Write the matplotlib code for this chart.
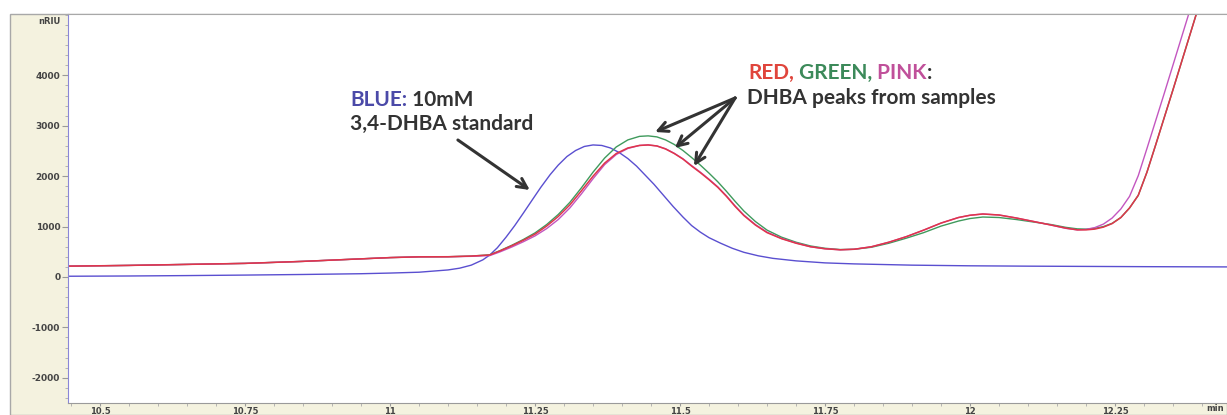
import matplotlib.pyplot as plt
from matplotlib.patches import Rectangle
from matplotlib.ticker import MultipleLocator, FormatStrFormatter

plt.rcParams['axes.unicode_minus'] = False

# retention time (min) and detector response (nRIU) for each trace
blue_t = [10.445, 10.55, 10.65, 10.75, 10.85, 10.95, 11.0, 11.05, 11.1, 11.12,
          11.14, 11.16, 11.172, 11.185, 11.2, 11.215, 11.23, 11.247, 11.26, 11.276,
          11.29, 11.305, 11.32, 11.335, 11.35, 11.365, 11.38, 11.395, 11.41, 11.425,
          11.44, 11.455, 11.47, 11.488, 11.505, 11.52, 11.535, 11.55, 11.57, 11.59,
          11.61, 11.635, 11.66, 11.7, 11.75, 11.8, 11.9, 12.0, 12.1, 12.2,
          12.3, 12.443]
blue_v = [15, 20, 28, 38, 50, 65, 78, 95, 140, 175,
          235, 340, 437, 580, 790, 1020, 1270, 1560, 1780, 2030,
          2220, 2390, 2510, 2590, 2620, 2610, 2560, 2470, 2350, 2200,
          2020, 1840, 1640, 1400, 1190, 1020, 890, 780, 670, 570,
          490, 420, 370, 320, 280, 260, 235, 222, 215, 210,
          205, 200]

sample_t = [10.445, 10.55, 10.65, 10.75, 10.85, 10.95, 11.0, 11.05, 11.1, 11.14,
            11.172, 11.19, 11.21, 11.23, 11.25, 11.27, 11.29, 11.31, 11.33, 11.35,
            11.37, 11.39, 11.41, 11.43, 11.445, 11.46, 11.475, 11.49, 11.505, 11.52,
            11.535, 11.55, 11.565, 11.58, 11.595, 11.61, 11.63, 11.65, 11.675, 11.7,
            11.725, 11.75, 11.776, 11.8, 11.83, 11.86, 11.89, 11.92, 11.95, 11.98,
            12.0, 12.022, 12.05, 12.08, 12.11, 12.14, 12.165, 12.185, 12.2, 12.215,
            12.23, 12.245, 12.26, 12.275, 12.29, 12.305, 12.32, 12.335, 12.35, 12.365,
            12.38, 12.395, 12.41]
red_v = [215, 230, 250, 270, 310, 360, 385, 400, 402, 415,
         437, 520, 620, 730, 850, 1010, 1200, 1430, 1710, 2000,
         2260, 2450, 2560, 2610, 2620, 2600, 2540, 2450, 2340, 2200,
         2070, 1930, 1780, 1600, 1400, 1220, 1030, 880, 760, 670,
         600, 560, 540, 550, 600, 690, 800, 930, 1070, 1180,
         1225, 1250, 1230, 1170, 1100, 1030, 970, 935, 935, 950,
         990, 1060, 1180, 1370, 1620, 2080, 2620, 3170, 3720, 4280,
         4840, 5400, 5960]
green_v = [215, 230, 250, 270, 310, 360, 385, 400, 402, 415,
           440, 525, 630, 745, 875, 1040, 1240, 1480, 1770, 2080,
           2360, 2580, 2720, 2790, 2800, 2780, 2720, 2630, 2510, 2370,
           2220, 2060, 1890, 1700, 1500, 1310, 1100, 930, 790, 690,
           615, 570, 545, 550, 590, 670, 770, 880, 1010, 1110,
           1160, 1190, 1180, 1140, 1090, 1040, 985, 955, 950, 965,
           1000, 1065, 1180, 1370, 1620, 2080, 2620, 3170, 3720, 4280,
           4840, 5400, 5960]
pink_v = [215, 230, 250, 270, 310, 360, 385, 400, 402, 410,
          425, 500, 595, 700, 815, 960, 1140, 1370, 1650, 1950,
          2230, 2430, 2550, 2610, 2620, 2600, 2545, 2455, 2345, 2210,
          2080, 1940, 1790, 1610, 1410, 1230, 1040, 890, 765, 675,
          600, 560, 540, 550, 600, 690, 800, 930, 1070, 1180,
          1225, 1250, 1230, 1170, 1100, 1030, 965, 935, 945, 980,
          1050, 1170, 1350, 1600, 2010, 2550, 3100, 3650, 4210, 4770,
          5330, 5890, 6450]

y_ticks = [-2000, -1000, 0, 1000, 2000, 3000, 4000]
x_ticks = [10.5, 10.75, 11, 11.25, 11.5, 11.75, 12, 12.25]

W, H = 1227, 415
fig = plt.figure(figsize=(W / 100, H / 100), dpi=100)
fig.patch.set_facecolor('white')

# beige instrument panel behind the plot
panel = Rectangle((10 / W, 0), 1 - 10 / W, (H - 14) / H, transform=fig.transFigure,
                  facecolor='#f4f2df', edgecolor='#a8a8a8', lw=1.0, zorder=-5)
fig.patches.append(panel)

ax = fig.add_axes([68 / W, 12 / H, (W - 68) / W, (403 - 14) / H], zorder=2)
ax.set_facecolor('white')
ax.set_xlim(10.4448, 12.443)
ax.set_ylim(-2500, 5218)

ax.plot(blue_t, blue_v, color='#5a4fd0', lw=1.0)
ax.plot(sample_t, green_v, color='#3f9a5c', lw=1.0)
ax.plot(sample_t, pink_v, color='#c356c0', lw=1.0)
ax.plot(sample_t, red_v, color='#e0354a', lw=1.1)

ax.spines['right'].set_visible(False)
ax.spines['top'].set_color('#a8a8a8')
ax.spines['left'].set_color('#8a86d8')
ax.spines['bottom'].set_color('#9a9a9a')

ax.set_yticks(y_ticks)
ax.yaxis.set_minor_locator(MultipleLocator(200))
ax.set_xticks(x_ticks)
ax.xaxis.set_major_formatter(FormatStrFormatter('%g'))
ax.xaxis.set_minor_locator(MultipleLocator(0.05))
ax.tick_params(axis='y', which='major', length=4, width=0.8, color='#999999',
               labelsize=6.5, labelcolor='#444444', pad=1.5)
ax.tick_params(axis='x', which='major', length=2.5, width=0.8, color='#999999',
               labelsize=6, labelcolor='#444444', pad=0.5)
ax.tick_params(axis='both', which='minor', length=2, width=0.6, color='#aaaaaa')
for lab in ax.get_xticklabels() + ax.get_yticklabels():
    lab.set_fontweight('bold')

fig.text(60 / W, 1 - 22 / H, 'nRIU', ha='right', va='center', fontsize=6,
         color='#444444', fontweight='bold')
fig.text(1224 / W, 1 - 408 / H, 'min', ha='right', va='center', fontsize=6,
         color='#444444', fontweight='bold')

dark = '#333333'
font = dict(family=['Lato', 'DejaVu Sans'], fontsize=15, fontweight='bold')

t1 = ax.text(350 / W, 1 - 100 / H, 'BLUE:', color='#4b4aa8', va='center',
             transform=fig.transFigure, **font)
ax.annotate(' 10mM', xy=(1, 0), xycoords=t1, va='bottom', color=dark, **font)
ax.text(350 / W, 1 - 124 / H, '3,4-DHBA standard', color=dark, va='center',
        transform=fig.transFigure, **font)

r1 = ax.text(748 / W, 1 - 73 / H, 'RED,', color='#e0453c', va='center',
             transform=fig.transFigure, **font)
r2 = ax.annotate(' GREEN,', xy=(1, 0), xycoords=r1, va='bottom', color='#3c8a5a', **font)
r3 = ax.annotate(' PINK', xy=(1, 0), xycoords=r2, va='bottom', color='#c0509a', **font)
ax.annotate(':', xy=(1, 0), xycoords=r3, va='bottom', color=dark, **font)
ax.text(747 / W, 1 - 98 / H, 'DHBA peaks from samples', color=dark, va='center',
        transform=fig.transFigure, **font)

arrow = dict(arrowstyle='->,head_length=0.7,head_width=0.35', color=dark, lw=2.2,
             shrinkA=0, shrinkB=0)
ax.annotate('', xy=(11.241, 1726), xytext=(11.117, 2718), arrowprops=arrow)
for tip in [(11.457, 2877), (11.491, 2560), (11.524, 2202)]:
    ax.annotate('', xy=tip, xytext=(11.595, 3552), arrowprops=arrow)

fig.savefig('out.png', dpi=100)
